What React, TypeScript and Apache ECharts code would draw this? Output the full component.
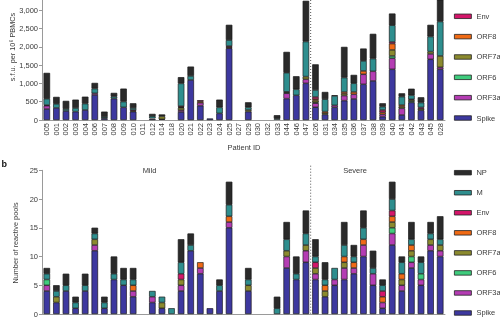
import React, { useEffect, useRef } from "react";
import * as echarts from "echarts";

const categories = ["005","001","002","003","004","006","007","008","009","010","011","012","014","018","020","021","022","023","024","025","027","029","030","032","033","044","046","047","026","031","034","035","036","037","038","039","040","041","042","043","045","028"];

const proteins = ["Spike", "ORF3a", "ORF6", "ORF7a", "ORF8", "Env", "M", "NP"];
const colors = ["#3d389f", "#b43cb3", "#3fcc7d", "#8b8a2e", "#f06a14", "#d4166a", "#2f8e8e", "#2b2b2b"];

// Panel a: s.f.u. per 10^6 PBMCs
const sfuSpike = [300,330,246,228,274,684,45,584,347,228,0,30,20,10,220,1094,390,40,182,1961,0,228,0,0,10,584,675,1003,350,150,347,529,575,976,1067,91,1386,137,480,265,1660,1386];
const sfuORF3a = [90,0,0,0,0,46,0,0,0,0,0,0,0,0,50,0,80,0,0,0,0,0,0,0,0,146,0,110,110,0,55,137,128,274,264,64,301,182,0,0,146,55];
const sfuORF6 = [0,0,0,0,0,0,0,0,0,0,0,0,0,0,0,0,0,0,0,0,0,0,0,0,0,20,0,0,20,0,0,0,0,0,0,0,64,0,30,0,0,0];
const sfuORF7a = [0,0,0,0,0,0,0,0,0,0,0,0,80,0,60,0,0,0,0,0,0,46,0,0,0,20,0,73,50,40,0,50,0,0,0,0,164,45,35,40,64,310];
const sfuORF8 = [0,0,0,0,0,0,0,0,0,20,0,0,0,0,20,0,40,0,0,30,0,0,0,0,0,0,0,0,40,40,0,50,64,91,0,55,173,45,0,0,0,0];
const sfuEnv = [20,0,0,0,0,0,0,0,0,25,0,15,0,0,30,0,30,0,0,30,0,0,0,0,0,0,0,0,60,0,0,0,0,0,0,64,46,0,20,40,0,0];
const sfuM = [170,110,55,100,173,128,37,55,155,55,0,60,0,0,620,110,0,0,164,164,0,73,0,0,30,520,164,958,190,340,255,392,237,274,347,91,456,228,110,130,410,940];
const sfuNP = [706,190,220,228,190,154,146,100,355,128,0,60,50,15,170,255,15,15,210,415,0,136,0,0,90,570,356,1112,700,195,20,839,227,337,675,91,319,91,180,145,319,809];

// Panel b: number of reactive pools
const poolSpike = [4,2,4,1,4,11,1,6,5,3,0,2,1,0,4,11,7,1,4,15,0,4,0,0,0,8,6,9,6,3,5,6,7,10,5,1,12,4,8,5,11,10];
const poolORF3a = [1,0,0,0,0,1,0,0,0,1,0,1,0,0,1,0,1,0,0,1,0,0,0,0,0,2,0,2,1,0,1,2,1,2,2,1,2,1,1,1,1,1];
const poolORF6 = [1,0,0,0,0,0,0,0,0,0,0,0,0,0,0,0,0,0,0,0,0,0,0,0,0,0,0,0,0,0,0,0,0,0,0,0,1,0,1,1,0,0];
const poolORF7a = [0,1,0,0,0,1,0,0,0,0,0,0,1,0,1,0,0,0,0,0,0,1,0,0,0,1,0,1,1,1,0,1,0,0,0,0,1,1,1,0,1,1];
const poolORF8 = [0,0,0,0,0,0,0,0,0,1,0,0,0,0,0,0,1,0,0,1,0,0,0,0,0,0,0,0,0,1,0,1,1,1,0,1,1,1,1,0,0,0];
const poolEnv = [0,0,0,0,0,0,0,0,0,0,0,0,0,0,1,0,0,0,0,0,0,0,0,0,0,0,0,0,1,0,0,0,0,0,0,1,1,0,0,0,0,0];
const poolM = [1,1,1,1,1,1,1,1,1,1,0,1,1,1,2,1,0,0,1,2,0,1,0,0,1,2,1,2,1,1,2,2,1,2,1,1,2,2,1,2,1,1];
const poolNP = [1,1,2,1,2,1,1,3,2,2,0,0,0,0,4,2,0,0,1,4,0,2,0,0,2,3,3,4,3,3,0,4,2,3,3,1,3,1,3,1,2,4];

const sfuTicks = [0, 500, 1000, 1500, 2000, 2500, 3000];
const poolTicks = [0, 5, 10, 15, 20, 25];

const sfuData = [sfuSpike, sfuORF3a, sfuORF6, sfuORF7a, sfuORF8, sfuEnv, sfuM, sfuNP];
const poolData = [poolSpike, poolORF3a, poolORF6, poolORF7a, poolORF8, poolEnv, poolM, poolNP];

const FONT = "Liberation Sans, Arial, sans-serif";
const TXT = "#3a3a3a";

export default function App() {
  const ref = useRef<HTMLDivElement>(null);
  useEffect(() => {
    if (!ref.current) return;
    const chart = echarts.init(ref.current, null, { renderer: "svg" });
    const toData = (arr: number[]) => arr.map((v) => (v === 0 ? null : v));
    const itemStyleFor = (i: number) => ({
      color: colors[i],
      borderColor: "#151515",
      borderWidth: 0.6,
      shadowColor: "rgba(0,0,0,0.28)",
      shadowBlur: 1.5,
    });
    const series: any[] = [];
    proteins.forEach((p, i) => {
      series.push({
        name: p,
        type: "bar",
        stack: "sfu",
        xAxisIndex: 0,
        yAxisIndex: 0,
        barWidth: 6.4,
        data: toData(sfuData[i]),
        itemStyle: itemStyleFor(i),
      });
    });
    proteins.forEach((p, i) => {
      series.push({
        name: p,
        type: "bar",
        stack: "pool",
        xAxisIndex: 1,
        yAxisIndex: 1,
        barWidth: 6.4,
        data: toData(poolData[i]),
        itemStyle: itemStyleFor(i),
      });
    });
    const axisLineStyle = { lineStyle: { color: "#9a9a9a", width: 1 } };
    const legendBase = {
      orient: "vertical",
      left: 454,
      padding: 0,
      itemWidth: 17,
      itemHeight: 4.5,
      icon: "rect",
      selectedMode: false,
      itemStyle: { shadowBlur: 0, borderWidth: 0.8, borderColor: "#222" },
      textStyle: { fontSize: 7.5, color: TXT, fontFamily: FONT, lineHeight: 10 },
    };
    chart.setOption({
      animation: false,
      textStyle: { fontFamily: FONT },
      grid: [
        { left: 42, top: 0, width: 403, height: 120 },
        { left: 42, top: 170.3, width: 403, height: 145.4 },
      ],
      legend: [
        { ...legendBase, top: 11.3, itemGap: 10.34, data: ["Env", "ORF8", "ORF7a", "ORF6", "ORF3a", "Spike"] },
        { ...legendBase, top: 167.7, itemGap: 10.04, data: ["NP", "M", "Env", "ORF8", "ORF7a", "ORF6", "ORF3a", "Spike"] },
      ],
      xAxis: [
        {
          type: "category",
          gridIndex: 0,
          data: categories,
          axisLine: axisLineStyle,
          axisTick: { alignWithLabel: true, length: 2, lineStyle: { color: "#9a9a9a" } },
          axisLabel: { rotate: 90, fontSize: 7.5, color: TXT, margin: 3, interval: 0, fontFamily: FONT },
        },
        {
          type: "category",
          gridIndex: 1,
          data: categories,
          axisLine: axisLineStyle,
          axisTick: { alignWithLabel: true, length: 2, lineStyle: { color: "#9a9a9a" } },
          axisLabel: { show: false },
        },
      ],
      yAxis: [
        {
          type: "value",
          gridIndex: 0,
          min: 0,
          max: 3280,
          interval: 500,
          splitLine: { show: false },
          axisLine: { show: true, ...axisLineStyle },
          axisTick: { show: true, length: 3, customValues: sfuTicks, lineStyle: { color: "#9a9a9a" } },
          axisLabel: {
            fontSize: 7.5,
            color: TXT,
            margin: 4,
            customValues: sfuTicks,
            fontFamily: FONT,
            formatter: (v: number) => v.toLocaleString("en-US"),
          },
        },
        {
          type: "value",
          gridIndex: 1,
          min: 0,
          max: 25,
          interval: 5,
          splitLine: { show: false },
          axisLine: { show: true, ...axisLineStyle },
          axisTick: { show: true, length: 3, customValues: poolTicks, lineStyle: { color: "#9a9a9a" } },
          axisLabel: { fontSize: 7.5, color: TXT, margin: 4, customValues: poolTicks, fontFamily: FONT },
        },
      ],
      series,
    });

    const xa = chart.convertToPixel({ xAxisIndex: 0 }, "047") as number;
    const xb = chart.convertToPixel({ xAxisIndex: 0 }, "026") as number;
    const xDiv = (xa + xb) / 2;
    const yTop0 = chart.convertToPixel({ yAxisIndex: 0 }, 3280) as number;
    const yBot0 = chart.convertToPixel({ yAxisIndex: 0 }, 0) as number;
    const yTop1 = chart.convertToPixel({ yAxisIndex: 1 }, 25.8) as number;
    const yBot1 = chart.convertToPixel({ yAxisIndex: 1 }, 0) as number;
    const dotted = { stroke: "#555", lineWidth: 1, lineDash: [1, 2] };

    chart.setOption({
      graphic: [
        { type: "line", shape: { x1: xDiv, y1: yTop0, x2: xDiv, y2: yBot0 }, style: dotted, silent: true },
        { type: "line", shape: { x1: xDiv, y1: yTop1, x2: xDiv, y2: yBot1 }, style: dotted, silent: true },
        {
          type: "text", x: 12, y: 47, rotation: Math.PI / 2,
          style: { text: "s.f.u. per 10⁶ PBMCs", fontSize: 7.3, fill: TXT, fontFamily: FONT, align: "center", verticalAlign: "middle" },
        },
        {
          type: "text", x: 15.5, y: 243, rotation: Math.PI / 2,
          style: { text: "Number of reactive pools", fontSize: 7.3, fill: TXT, fontFamily: FONT, align: "center", verticalAlign: "middle" },
        },
        {
          type: "text", x: 244, y: 147.5,
          style: { text: "Patient ID", fontSize: 7.5, fill: TXT, fontFamily: FONT, align: "center", verticalAlign: "middle" },
        },
        {
          type: "text", x: 1.5, y: 163.5,
          style: { text: "b", fontSize: 9, fontWeight: "bold", fill: "#111", fontFamily: FONT, align: "left", verticalAlign: "middle" },
        },
        {
          type: "text", x: 149.5, y: 170,
          style: { text: "Mild", fontSize: 7.5, fill: TXT, fontFamily: FONT, align: "center", verticalAlign: "middle" },
        },
        {
          type: "text", x: 355, y: 170,
          style: { text: "Severe", fontSize: 7.5, fill: TXT, fontFamily: FONT, align: "center", verticalAlign: "middle" },
        },
      ],
    });

    return () => chart.dispose();
  }, []);
  return <div ref={ref} style={{ position: "fixed", left: 0, top: 0, width: 500, height: 318 }} />;
}
